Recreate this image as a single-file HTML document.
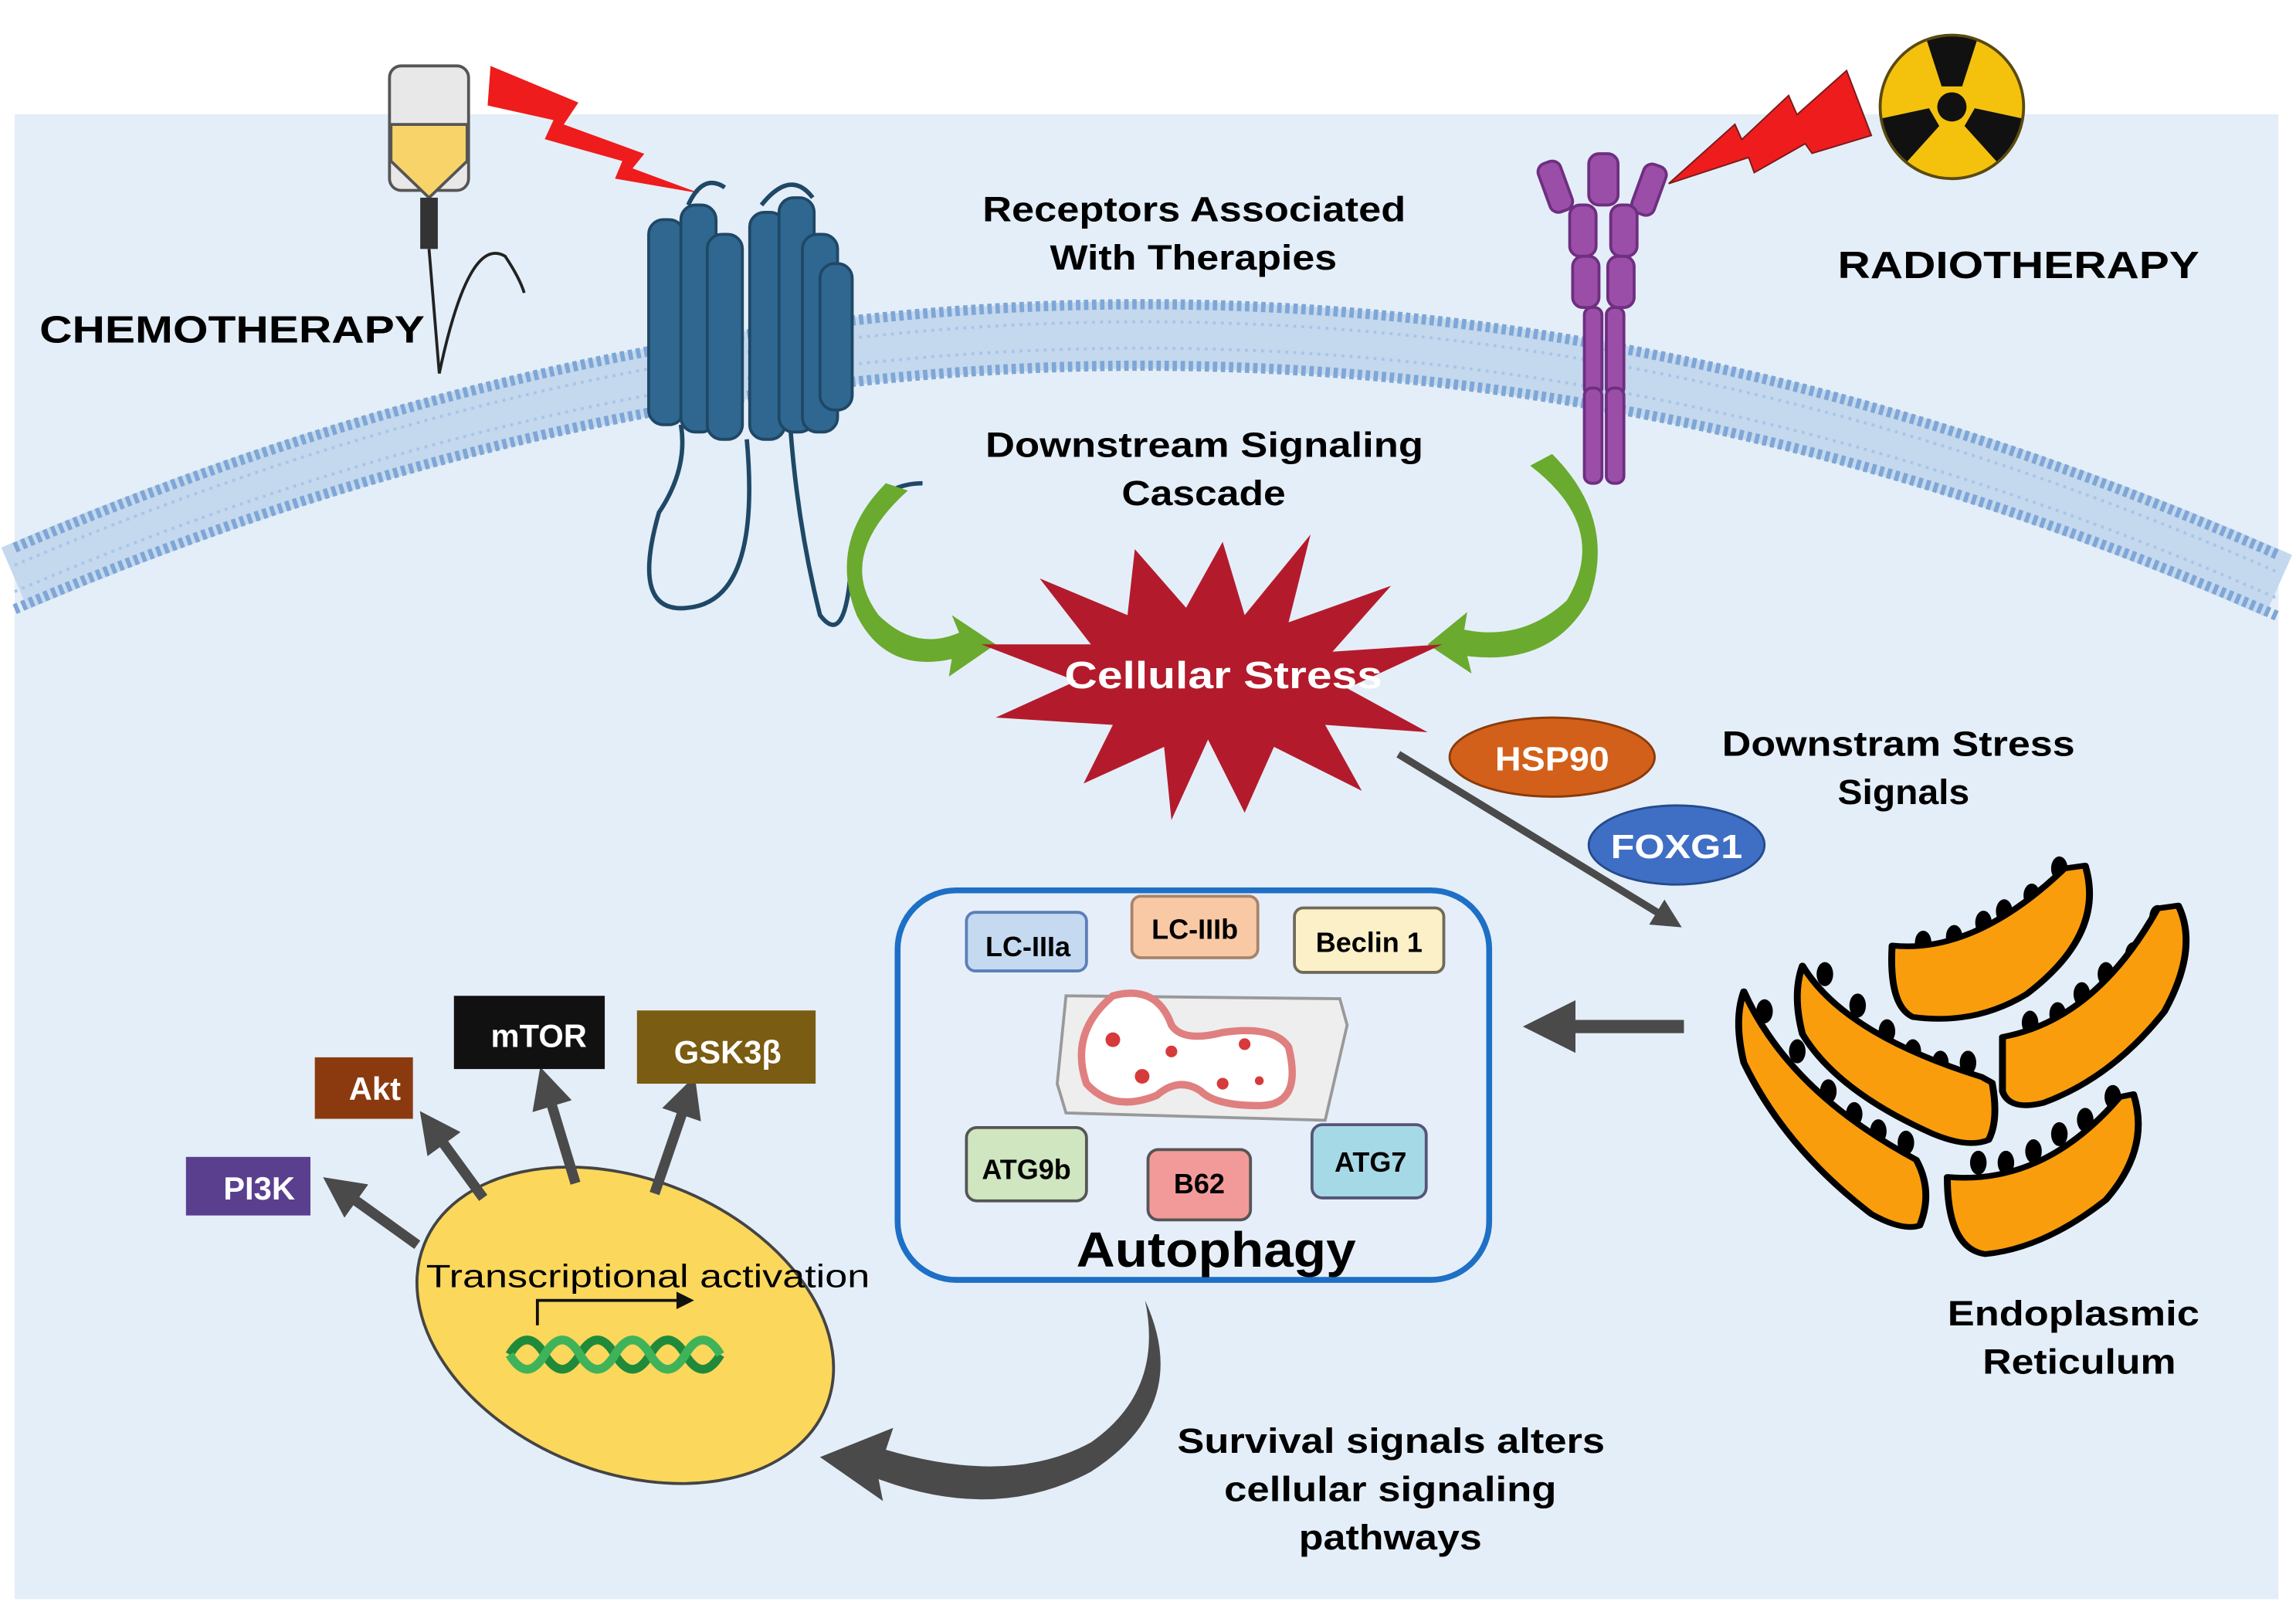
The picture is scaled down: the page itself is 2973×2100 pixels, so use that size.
<!DOCTYPE html>
<html><head><meta charset="utf-8"><style>
html,body{margin:0;padding:0;background:#fff;}
svg{display:block;}
text{font-family:"Liberation Sans",Arial,sans-serif;font-weight:bold;}
</style></head><body>
<svg width="2973" height="2100" viewBox="0 0 1568 1107.6" preserveAspectRatio="none" xmlns="http://www.w3.org/2000/svg">
<defs>
<marker id="ag" markerWidth="4" markerHeight="4" refX="2" refY="2" orient="auto" markerUnits="strokeWidth"><path d="M0,0 L4,2 L0,4 z" fill="#4a4a4a"/></marker>
</defs>
<rect x="0" y="0" width="1568" height="1108" fill="#fff"/>
<rect x="10" y="78" width="1546" height="1014" fill="#e4eef8"/>
<!-- membrane -->
<path d="M10,395 Q790,60 1556,400" fill="none" stroke="#c4d8ee" stroke-width="46"/>
<path d="M10,374 Q790,39 1556,379" fill="none" stroke="#7ea6d6" stroke-width="7" stroke-dasharray="3 2.5"/>
<path d="M10,416 Q790,81 1556,421" fill="none" stroke="#7ea6d6" stroke-width="7" stroke-dasharray="3 2.5"/>
<path d="M10,386 Q790,51 1556,391" fill="none" stroke="#a9c4e6" stroke-width="2" stroke-dasharray="2 3.5"/>
<path d="M10,404 Q790,69 1556,409" fill="none" stroke="#a9c4e6" stroke-width="2" stroke-dasharray="2 3.5"/>

<!-- IV bag -->
<rect x="266" y="45" width="54" height="85" rx="8" fill="#e8e8e8" stroke="#555" stroke-width="2"/>
<path d="M267,85 L319,85 L319,110 L293,135 L267,110 z" fill="#f7d36a" stroke="#555" stroke-width="2"/>
<rect x="287" y="135" width="12" height="35" fill="#333"/>
<path d="M293,170 L300,255 Q320,160 345,175 Q355,190 358,200" fill="none" stroke="#222" stroke-width="2"/>
<!-- lightning left -->
<path d="M335,45 L395,70 L385,85 L440,105 L432,115 L478,132 L420,122 L425,110 L372,95 L378,82 L333,72 z" fill="#ee1c1c"/>
<!-- GPCR -->
<g fill="#2f6790" stroke="#1f4866" stroke-width="2">
<rect x="443" y="150" width="24" height="140" rx="10"/>
<rect x="465" y="140" width="24" height="155" rx="10"/>
<rect x="483" y="160" width="24" height="140" rx="10"/>
<rect x="512" y="145" width="24" height="155" rx="10"/>
<rect x="532" y="135" width="24" height="160" rx="10"/>
<rect x="548" y="160" width="24" height="135" rx="10"/>
<rect x="560" y="180" width="22" height="100" rx="10"/>
</g>
<path d="M470,140 Q480,118 495,128 M520,140 Q540,115 555,135" fill="none" stroke="#1f4866" stroke-width="3"/>
<path d="M465,290 Q470,320 450,350 Q430,420 470,415 Q520,410 510,300 M540,295 Q545,360 560,420 Q575,440 580,400 Q585,330 630,330" fill="none" stroke="#1f4866" stroke-width="3"/>
<!-- purple receptor -->
<g fill="#9b4ea8" stroke="#6e2f80" stroke-width="2">
<rect x="1054" y="110" width="16" height="35" rx="6" transform="rotate(-20 1062 127)"/>
<rect x="1118" y="112" width="16" height="35" rx="6" transform="rotate(20 1126 130)"/>
<rect x="1085" y="105" width="20" height="35" rx="7"/>
<rect x="1072" y="140" width="18" height="35" rx="7"/>
<rect x="1100" y="140" width="18" height="35" rx="7"/>
<rect x="1074" y="175" width="18" height="35" rx="7"/>
<rect x="1098" y="175" width="18" height="35" rx="7"/>
<rect x="1082" y="210" width="12" height="60" rx="5"/>
<rect x="1097" y="210" width="12" height="60" rx="5"/>
<rect x="1082" y="265" width="12" height="65" rx="5"/>
<rect x="1097" y="265" width="12" height="65" rx="5"/>
</g>
<!-- lightning right -->
<path d="M1139.6,125.4 L1184.8,84.9 L1189.5,95.3 L1221.5,65.2 L1227.2,78.3 L1261.1,48.2 L1278,92.5 L1237.5,104.7 L1232.8,98.1 L1198,117.9 L1194.2,107.5 z" fill="#ee1c1c" stroke="#7a1a1a" stroke-width="1"/>
<!-- radiation -->
<circle cx="1333" cy="73" r="49" fill="#f4c20d" stroke="#5a4a10" stroke-width="2"/>
<g fill="#111" transform="translate(1333,73)">
<path d="M-7,-14 L-17,-45 A48,48 0 0 1 17,-45 L7,-14 z"/>
<path d="M-7,-14 L-17,-45 A48,48 0 0 1 17,-45 L7,-14 z" transform="rotate(120)"/>
<path d="M-7,-14 L-17,-45 A48,48 0 0 1 17,-45 L7,-14 z" transform="rotate(240)"/>
<circle cx="0" cy="0" r="10"/>
</g>

<!-- texts top -->
<text x="27" y="234" font-size="26" textLength="263" lengthAdjust="spacingAndGlyphs">CHEMOTHERAPY</text>
<text x="1255" y="190" font-size="26" textLength="247" lengthAdjust="spacingAndGlyphs">RADIOTHERAPY</text>
<text x="671" y="151" font-size="24" textLength="289" lengthAdjust="spacingAndGlyphs">Receptors Associated</text>
<text x="717" y="184" font-size="24" textLength="196" lengthAdjust="spacingAndGlyphs">With Therapies</text>
<text x="673" y="312" font-size="24" textLength="299" lengthAdjust="spacingAndGlyphs">Downstream Signaling</text>
<text x="766" y="345" font-size="24" textLength="112" lengthAdjust="spacingAndGlyphs">Cascade</text>

<!-- green arrows -->
<path d="M620,335 Q570,380 600,420 Q625,445 655,432 L650,420 L680,440 L648,462 L650,450 Q605,460 585,420 Q565,370 605,330 z" fill="#6aaa2e"/>
<path d="M1045,318 Q1100,360 1070,410 Q1040,438 1000,430 L1002,418 L975,440 L1005,460 L1002,448 Q1060,455 1085,410 Q1105,355 1060,310 z" fill="#6aaa2e"/>

<!-- star -->
<path d="M835,370 L850,420 L895,365 L880,425 L950,400 L910,445 L985,440 L920,470 L975,500 L905,495 L930,540 L870,510 L850,555 L825,505 L800,560 L795,510 L740,535 L760,495 L680,490 L735,465 L670,440 L745,440 L710,395 L770,420 L775,375 L810,415 z" fill="#b31b2c"/>
<text x="727" y="470" font-size="26" fill="#fff" textLength="217" lengthAdjust="spacingAndGlyphs">Cellular Stress</text>

<!-- HSP90 FOXG1 -->
<ellipse cx="1060" cy="517" rx="70" ry="27" fill="#d2601a" stroke="#8a3a0a" stroke-width="1.5"/>
<text x="1021" y="526" font-size="23" fill="#fff" textLength="78" lengthAdjust="spacingAndGlyphs">HSP90</text>
<ellipse cx="1145" cy="577" rx="60" ry="27" fill="#3f6fc4" stroke="#244b8c" stroke-width="1.5"/>
<text x="1100" y="586" font-size="23" fill="#fff" textLength="90" lengthAdjust="spacingAndGlyphs">FOXG1</text>
<text x="1176" y="516" font-size="24" textLength="241" lengthAdjust="spacingAndGlyphs">Downstram Stress</text>
<text x="1255" y="549" font-size="24" textLength="90" lengthAdjust="spacingAndGlyphs">Signals</text>
<line x1="955" y1="515" x2="1140" y2="628" stroke="#4a4a4a" stroke-width="5" marker-end="url(#ag)"/>

<!-- ER -->
<g transform="translate(1160.3,569.6) scale(0.2355,0.1951)" stroke="#000" stroke-width="20" stroke-linejoin="round">
<g fill="#000" stroke="none">
<ellipse cx="190" cy="620" rx="24" ry="42"/><ellipse cx="285" cy="760" rx="24" ry="42"/><ellipse cx="375" cy="900" rx="24" ry="42"/><ellipse cx="450" cy="980" rx="24" ry="42"/><ellipse cx="520" cy="1040" rx="24" ry="42"/><ellipse cx="600" cy="1080" rx="24" ry="42"/>
</g>
<path d="M130,550 Q260,900 630,1140 Q680,1250 640,1370 Q590,1390 500,1330 Q250,1100 130,800 Q100,650 130,550 z" fill="#f99d0c"/>
<g fill="#000" stroke="none">
<ellipse cx="365" cy="490" rx="24" ry="42"/><ellipse cx="460" cy="600" rx="24" ry="42"/><ellipse cx="545" cy="690" rx="24" ry="42"/><ellipse cx="620" cy="760" rx="24" ry="42"/><ellipse cx="700" cy="800" rx="24" ry="42"/><ellipse cx="780" cy="800" rx="24" ry="42"/>
</g>
<path d="M300,460 Q420,700 820,850 L850,870 Q870,1000 840,1070 Q780,1100 680,1050 Q400,900 300,700 Q270,560 300,460 z" fill="#f99d0c"/>
<g fill="#000" stroke="none">
<ellipse cx="650" cy="380" rx="24" ry="42"/><ellipse cx="740" cy="360" rx="24" ry="42"/><ellipse cx="825" cy="310" rx="24" ry="42"/><ellipse cx="885" cy="270" rx="24" ry="42"/><ellipse cx="965" cy="215" rx="24" ry="42"/><ellipse cx="1045" cy="120" rx="24" ry="42"/>
</g>
<path d="M560,390 Q800,420 1060,120 L1120,110 Q1180,350 950,560 Q800,670 620,640 Q550,600 560,390 z" fill="#f99d0c"/>
<g fill="#000" stroke="none">
<ellipse cx="960" cy="660" rx="24" ry="42"/><ellipse cx="1040" cy="630" rx="24" ry="42"/><ellipse cx="1110" cy="560" rx="24" ry="42"/><ellipse cx="1180" cy="490" rx="24" ry="42"/><ellipse cx="1260" cy="420" rx="24" ry="42"/><ellipse cx="1330" cy="290" rx="24" ry="42"/>
</g>
<path d="M880,710 Q1150,650 1330,260 L1390,250 Q1450,400 1350,620 Q1200,850 1000,940 Q900,970 880,900 z" fill="#f99d0c"/>
<g fill="#000" stroke="none">
<ellipse cx="810" cy="1150" rx="24" ry="42"/><ellipse cx="890" cy="1150" rx="24" ry="42"/><ellipse cx="970" cy="1110" rx="24" ry="42"/><ellipse cx="1045" cy="1050" rx="24" ry="42"/><ellipse cx="1120" cy="1000" rx="24" ry="42"/><ellipse cx="1200" cy="920" rx="24" ry="42"/>
</g>
<path d="M720,1200 Q1000,1230 1220,920 L1260,910 Q1310,1100 1180,1280 Q1000,1450 830,1470 Q720,1450 720,1200 z" fill="#f99d0c"/>
</g>
<text x="1330" y="905" font-size="24" textLength="172" lengthAdjust="spacingAndGlyphs">Endoplasmic</text>
<text x="1354" y="938" font-size="24" textLength="132" lengthAdjust="spacingAndGlyphs">Reticulum</text>
<line x1="1150" y1="701" x2="1058" y2="701" stroke="#4a4a4a" stroke-width="9" marker-end="url(#ag)"/>

<!-- autophagy box -->
<rect x="613" y="608" width="404" height="266" rx="40" fill="#e6eff9" stroke="#1e6fc6" stroke-width="4"/>
<g stroke-width="2">
<rect x="660" y="623" width="82" height="40" rx="6" fill="#c5daf1" stroke="#5b7fb8"/>
<rect x="773" y="612" width="86" height="42" rx="6" fill="#f9c9a6" stroke="#a9826a"/>
<rect x="884" y="620" width="102" height="44" rx="6" fill="#fcf0c8" stroke="#706a58"/>
<rect x="660" y="770" width="82" height="50" rx="7" fill="#cfe6c0" stroke="#555"/>
<rect x="784" y="785" width="70" height="48" rx="7" fill="#f29a9a" stroke="#555"/>
<rect x="896" y="768" width="78" height="50" rx="7" fill="#a6d9e6" stroke="#557"/>
</g>
<text x="702" y="653" font-size="19" text-anchor="middle">LC-IIIa</text>
<text x="816" y="641" font-size="19" text-anchor="middle">LC-IIIb</text>
<text x="935" y="650" font-size="19" text-anchor="middle">Beclin 1</text>
<text x="701" y="805" font-size="19" text-anchor="middle">ATG9b</text>
<text x="819" y="815" font-size="19" text-anchor="middle">B62</text>
<text x="936" y="800" font-size="19" text-anchor="middle">ATG7</text>
<text x="735" y="865" font-size="34" textLength="191" lengthAdjust="spacingAndGlyphs">Autophagy</text>
<!-- autophagosome -->
<path d="M728,680 L915,682 L920,700 L905,765 L728,760 L722,740 z" fill="#eeeeee" stroke="#999" stroke-width="2"/>
<path d="M760,680 Q790,672 800,700 Q808,712 835,705 Q870,700 880,715 Q890,755 860,755 Q830,755 820,745 Q805,735 790,748 Q760,760 742,740 Q730,705 760,680 z" fill="#fff" stroke="#e07f7f" stroke-width="5"/>
<g fill="#d63a3a"><circle cx="760" cy="710" r="5"/><circle cx="780" cy="735" r="5"/><circle cx="800" cy="718" r="4"/><circle cx="850" cy="713" r="4"/><circle cx="835" cy="740" r="4"/><circle cx="860" cy="738" r="3"/></g>

<!-- nucleus -->
<ellipse cx="427" cy="905" rx="148" ry="100" transform="rotate(22 427 905)" fill="#fbd75b" stroke="#444" stroke-width="2"/>
<text x="291" y="879" font-size="22" style="font-weight:normal" textLength="303" lengthAdjust="spacingAndGlyphs">Transcriptional activation</text>
<path d="M367,905 L367,888 L465,888" fill="none" stroke="#111" stroke-width="2"/>
<path d="M462,882 L474,888 L462,894 z" fill="#111"/>
<path d="M348,925 Q360,905 372,925 T396,925 T420,925 T444,925 T468,925 T492,925" fill="none" stroke="#1f8a3a" stroke-width="6"/>
<path d="M348,925 Q360,945 372,925 T396,925 T420,925 T444,925 T468,925 T492,925" fill="none" stroke="#3fb35a" stroke-width="6"/>

<!-- kinase boxes -->
<g stroke="#4a4a4a" stroke-width="7" marker-end="url(#ag)">
<line x1="285" y1="850" x2="232" y2="812"/>
<line x1="330" y1="818" x2="295" y2="770"/>
<line x1="393" y1="808" x2="373" y2="742"/>
<line x1="447" y1="815" x2="470" y2="748"/>
</g>
<rect x="127" y="790" width="85" height="40" fill="#5a3f8f"/>
<text x="177" y="819" font-size="22" fill="#fff" text-anchor="middle">PI3K</text>
<rect x="215" y="722" width="67" height="42" fill="#8b3a0f"/>
<text x="256" y="751" font-size="22" fill="#fff" text-anchor="middle">Akt</text>
<rect x="310" y="680" width="103" height="50" fill="#111"/>
<text x="368" y="715" font-size="22" fill="#fff" text-anchor="middle">mTOR</text>
<rect x="435" y="690" width="122" height="50" fill="#7a5c12"/>
<text x="497" y="726" font-size="22" fill="#fff" text-anchor="middle">GSK3β</text>

<!-- bottom curved arrow -->
<path d="M782,888 Q815,960 745,1005 Q680,1040 600,1010 L603,1025 L560,995 L610,975 L605,990 Q690,1015 745,985 Q795,950 782,888 z" fill="#4a4a4a"/>
<text x="804" y="992" font-size="24" textLength="292" lengthAdjust="spacingAndGlyphs">Survival signals alters</text>
<text x="836" y="1025" font-size="24" textLength="227" lengthAdjust="spacingAndGlyphs">cellular signaling</text>
<text x="887" y="1058" font-size="24" textLength="125" lengthAdjust="spacingAndGlyphs">pathways</text>
</svg>
</body></html>
